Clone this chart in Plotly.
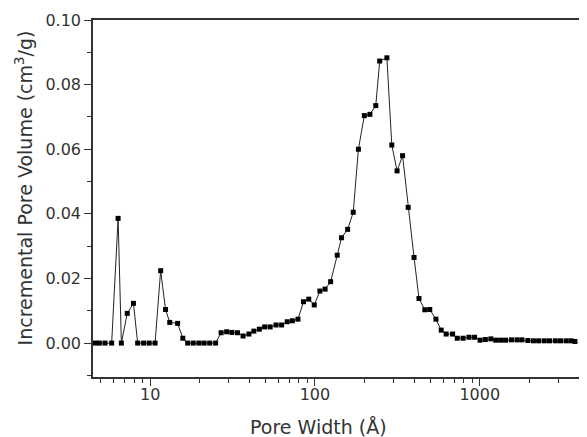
import plotly.graph_objects as go
import numpy as np

# Pore width (Angstrom) and incremental pore volume (cm3/g)
pore_width = [
    4.64, 4.92, 5.32, 5.84, 6.39, 6.69, 7.26, 7.92, 8.40, 9.12,
    9.86, 10.71, 11.58, 12.40, 13.15, 14.68, 15.79, 16.9, 18.27, 19.76,
    21.26, 22.98, 24.95, 26.94, 29.13, 31.32, 33.87, 36.62, 39.75, 42.58,
    45.98, 49.51, 53.46, 58.04, 62.77, 67.85, 72.97, 78.89, 85.2, 91.73,
    99.0, 107.1, 115.2, 124.5, 136.5, 144.8, 157.9, 170.7, 183.5, 199.3,
    215.4, 233.9, 247.1, 273.2, 292.5, 314.9, 340.1, 367.8, 399.2, 427.6,
    464.2, 497.2, 542.0, 583.6, 625.0, 684.1, 729.8, 792.2, 860.1, 930.0,
    1004, 1081, 1168, 1250, 1339, 1434, 1557, 1684, 1803, 1958,
    2117, 2276, 2461, 2647, 2873, 3090, 3341, 3578, 3780,
]
pore_volume = [
    0.0, 0.0, 0.0, 0.0, 0.0386, 0.0, 0.0092, 0.0123, 0.0, 0.0,
    0.0, 0.0, 0.0224, 0.0104, 0.0064, 0.0061, 0.0015, 0.0, 0.0, 0.0,
    0.0, 0.0, 0.0, 0.0032, 0.0035, 0.0033, 0.0032, 0.0022, 0.0028, 0.0037,
    0.0043, 0.0050, 0.0050, 0.0056, 0.0056, 0.0066, 0.0069, 0.0074, 0.0128, 0.0136,
    0.0118, 0.0161, 0.0167, 0.0190, 0.0272, 0.0326, 0.0352, 0.0405, 0.0600, 0.0704,
    0.0708, 0.0735, 0.0873, 0.0883, 0.0613, 0.0533, 0.0580, 0.0420, 0.0265, 0.0138,
    0.0103, 0.0104, 0.0074, 0.0040, 0.0028, 0.0028, 0.0015, 0.0015, 0.0018, 0.0018,
    0.0009, 0.0011, 0.0013, 0.0009, 0.0009, 0.0009, 0.0010, 0.0010, 0.0010, 0.0008,
    0.0007, 0.0007, 0.0007, 0.0007, 0.0007, 0.0007, 0.0007, 0.0007, 0.0005,
]

x_major = [10, 100, 1000]
x_minor = [m * 10 ** d for d in range(0, 4) for m in range(2, 10)]
x_minor = [v for v in x_minor if 4.5 <= v <= 4000]

fig = go.Figure()

fig.add_trace(go.Scatter(
    x=pore_width,
    y=pore_volume,
    mode='lines+markers',
    line=dict(color='#222222', width=1),
    marker=dict(symbol='square', size=5, color='#000000'),
    showlegend=False,
))

axis_font = dict(family='DejaVu Sans, sans-serif', size=16, color='#333333')

# the page body has an 8px margin, so the figure is offset by 8px
fig.update_layout(
    width=571,
    height=429,
    paper_bgcolor='white',
    plot_bgcolor='white',
    margin=dict(l=85, r=0, t=12, b=60),
    font=axis_font,
    xaxis=dict(
        type='log',
        range=[np.log10(4.5), np.log10(4000)],
        tickvals=x_major,
        ticktext=['10', '100', '1000'],
        ticks='outside',
        ticklen=7,
        ticklabelstandoff=-5,
        tickcolor='#333333',
        showline=True,
        linecolor='#333333',
        linewidth=1.5,
        mirror=True,
        showgrid=False,
        zeroline=False,
        automargin=False,
        minor=dict(tickvals=x_minor, ticks='outside', ticklen=4, tickcolor='#333333', showgrid=False),
    ),
    yaxis=dict(
        range=[-0.0105, 0.10],
        tickvals=[0.0, 0.02, 0.04, 0.06, 0.08, 0.10],
        tickformat='.2f',
        ticks='outside',
        ticklen=7,
        tickcolor='#333333',
        showline=True,
        linecolor='#333333',
        linewidth=1.5,
        mirror=True,
        showgrid=False,
        zeroline=False,
        automargin=False,
        minor=dict(tickvals=[-0.01, 0.01, 0.03, 0.05, 0.07, 0.09], ticks='outside', ticklen=4,
                   tickcolor='#333333', showgrid=False),
    ),
)

# axis titles
fig.add_annotation(
    text='Pore Width (Å)', xref='paper', yref='paper', x=0.465, y=0.0, yshift=-38,
    xanchor='center', yanchor='top', showarrow=False, font=dict(size=19),
    borderpad=0,
)
fig.add_annotation(
    text='Incremental Pore Volume (cm<sup>3</sup>/g)', xref='paper', yref='paper',
    x=-0.142, y=0.531, textangle=-90,
    xanchor='center', yanchor='middle', showarrow=False, font=dict(size=19),
)

fig.write_html("out.html")
